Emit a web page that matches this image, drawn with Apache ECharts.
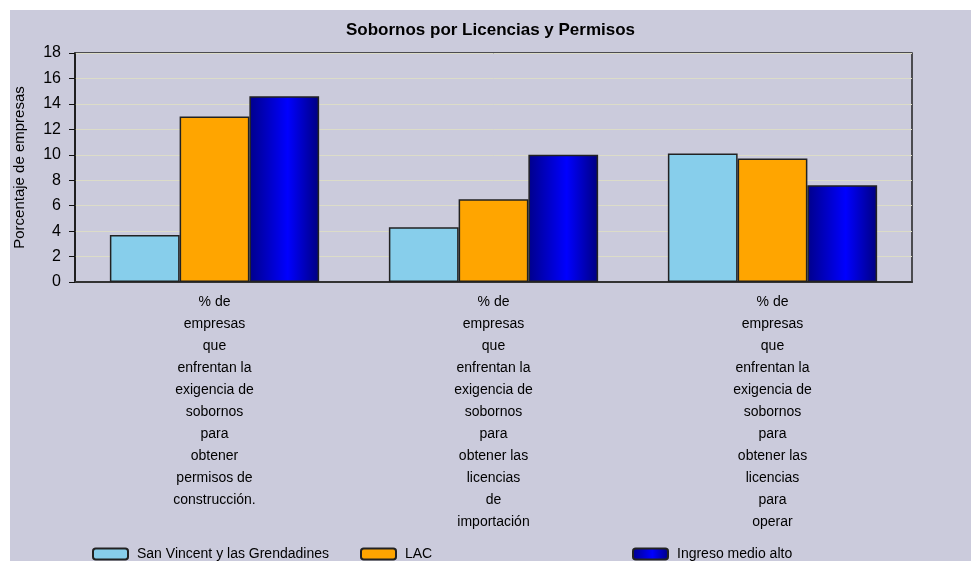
<!DOCTYPE html>
<html>
<head>
<meta charset="utf-8">
<script src="https://cdn.jsdelivr.net/npm/echarts@6/dist/echarts.min.js"></script>
<style>
  html, body { margin: 0; padding: 0; background: #ffffff; }
  #chart-container { position: absolute; left: 10px; top: 10px; width: 961px; height: 551px; }
</style>
</head>
<body>
<div id="chart-container"></div>
<script>
const categories = [
  "% de\nempresas\nque\nenfrentan la\nexigencia de\nsobornos\npara\nobtener\npermisos de\nconstrucción.",
  "% de\nempresas\nque\nenfrentan la\nexigencia de\nsobornos\npara\nobtener las\nlicencias\nde\nimportación",
  "% de\nempresas\nque\nenfrentan la\nexigencia de\nsobornos\npara\nobtener las\nlicencias\npara\noperar"
];
const seriesNames = ["San Vincent y las Grendadines", "LAC", "Ingreso medio alto"];
const sanVincent = [3.7, 4.3, 10.1];
const lac = [13.0, 6.5, 9.7];
const ingresoMedioAlto = [14.6, 10.0, 7.6];

var myChart = echarts.init(document.getElementById("chart-container"));

const font = "Liberation Sans, Arial, sans-serif";
const barBorder = { borderColor: "#222222", borderWidth: 1.5 };
const legendText = { fontSize: 14, color: "#000", padding: [0, 0, 0, 4] };

var option = {
  backgroundColor: "#cbcbdc",
  textStyle: { fontFamily: font },
  title: {
    text: "Sobornos por Licencias y Permisos",
    left: "center",
    top: 7,
    textStyle: { fontSize: 17, fontWeight: "bold", color: "#000", fontFamily: font }
  },
  legend: [
    { data: [seriesNames[0]], left: 77, top: 532, itemWidth: 35, itemHeight: 11, textStyle: legendText },
    { data: [seriesNames[1]], left: 345, top: 532, itemWidth: 35, itemHeight: 11, textStyle: legendText },
    { data: [seriesNames[2]], left: 617, top: 532, itemWidth: 35, itemHeight: 11, textStyle: legendText }
  ],
  grid: {
    left: 65,
    right: 59,
    top: 43,
    bottom: 279,
    outerBoundsMode: "none",
    show: true,
    borderColor: "#222222",
    borderWidth: 1.5
  },
  xAxis: {
    type: "category",
    data: categories,
    axisTick: { show: false },
    axisLine: { lineStyle: { color: "#333333", width: 2 } },
    axisLabel: {
      interval: 0,
      color: "#000",
      fontSize: 14,
      lineHeight: 22,
      margin: 9,
      align: "center"
    }
  },
  yAxis: {
    type: "value",
    min: 0,
    max: 18,
    interval: 2,
    name: "Porcentaje de empresas",
    nameLocation: "middle",
    nameGap: 48,
    nameTextStyle: { fontSize: 15, color: "#000" },
    axisLine: { show: true, lineStyle: { color: "#111111", width: 1.5 } },
    axisTick: { show: true, length: 6, lineStyle: { color: "#111111" } },
    axisLabel: { color: "#000", fontSize: 16, margin: 14 },
    splitLine: { lineStyle: { color: "#dcdcc8", width: 1 } }
  },
  series: [
    {
      name: seriesNames[0],
      type: "bar",
      data: sanVincent,
      barGap: "0%",
      barCategoryGap: "25%",
      itemStyle: Object.assign({ color: "#87ceeb" }, barBorder)
    },
    {
      name: seriesNames[1],
      type: "bar",
      data: lac,
      barGap: "0%",
      barCategoryGap: "25%",
      itemStyle: Object.assign({ color: "#ffa500" }, barBorder)
    },
    {
      name: seriesNames[2],
      type: "bar",
      data: ingresoMedioAlto,
      barGap: "0%",
      barCategoryGap: "25%",
      itemStyle: Object.assign({
        color: new echarts.graphic.LinearGradient(0, 0, 1, 0, [
          { offset: 0, color: "#00008b" },
          { offset: 0.55, color: "#0000ff" },
          { offset: 1, color: "#000080" }
        ])
      }, barBorder)
    }
  ]
};

option && myChart.setOption(option);
</script>
</body>
</html>
